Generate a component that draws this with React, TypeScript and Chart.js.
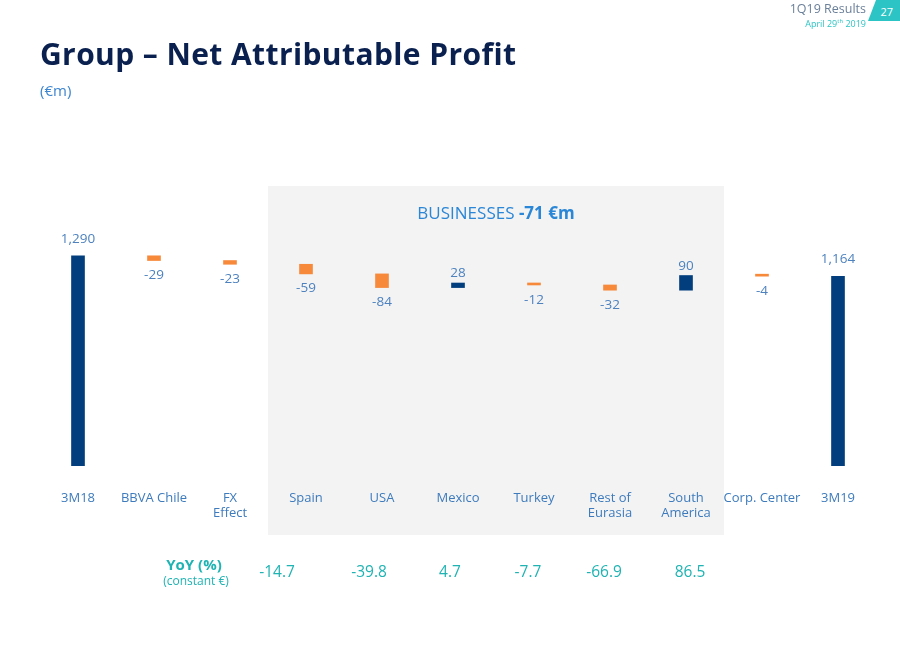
import React, { useEffect, useRef } from "react";
import { Chart, registerables } from "chart.js";

Chart.register(...registerables);

const categories: (string | string[])[] = [
  "3M18",
  "BBVA Chile",
  ["FX", "Effect"],
  "Spain",
  "USA",
  "Mexico",
  "Turkey",
  ["Rest of", "Eurasia"],
  ["South", "America"],
  "Corp. Center",
  "3M19",
];
// "total" entries are absolute; others are deltas
const kinds = ["total", "delta", "delta", "delta", "delta", "delta", "delta", "delta", "delta", "delta", "total"];
const values = [1290, -29, -23, -59, -84, 28, -12, -32, 90, -4, 1164];
const valueLabels = ["1,290", "-29", "-23", "-59", "-84", "28", "-12", "-32", "90", "-4", "1,164"];
const yoyLabels = ["-14.7", "-39.8", "4.7", "-7.7", "-66.9", "86.5"];
const yoyFirstIndex = 3;
const yoyNudge = [-29, -13, -8, -6, -6, 4];
const businessesFirst = 3;
const businessesLast = 8;

const NAVY = "#023e7d";
const ORANGE = "#f7893b";
const LABEL = "#4d82bf";
const TEAL = "#1fb3b3";

function buildRanges(): [number, number][] {
  let run = 0;
  return values.map((v, i) => {
    if (kinds[i] === "total") {
      run = v;
      return [0, v] as [number, number];
    }
    const start = run;
    run = run + v;
    return [start, run] as [number, number];
  });
}

export default function App() {
  const ref = useRef<HTMLCanvasElement>(null);
  useEffect(() => {
    document.body.style.margin = "0";
    const ranges = buildRanges();
    const colors = values.map((v, i) => (kinds[i] === "total" || v >= 0 ? NAVY : ORANGE));

    const overlay = {
      id: "overlay",
      beforeDraw(chart: any) {
        const ctx = chart.ctx;
        const x = chart.scales.x;
        const half = (x.getPixelForValue(1) - x.getPixelForValue(0)) / 2;
        const left = x.getPixelForValue(businessesFirst) - half;
        const right = x.getPixelForValue(businessesLast) + half;
        ctx.save();
        ctx.fillStyle = "#f3f3f3";
        ctx.fillRect(left, 186, right - left, 349);
        // heading
        ctx.textBaseline = "middle";
        const a = "BUSINESSES ";
        ctx.font = "bold 17px 'Open Sans', sans-serif";
        const b = "-71 €m";
        const wb = ctx.measureText(b).width;
        ctx.font = "17px 'Open Sans', sans-serif";
        const wa = ctx.measureText(a).width;
        const cx = (left + right) / 2;
        const sx = cx - (wa + wb) / 2;
        ctx.fillStyle = "#2a86d6";
        ctx.textAlign = "left";
        ctx.fillText(a, sx, 214);
        ctx.font = "bold 17px 'Open Sans', sans-serif";
        ctx.fillText(b, sx + wa, 214);
        ctx.restore();
      },
      afterDatasetsDraw(chart: any) {
        const ctx = chart.ctx;
        const x = chart.scales.x;
        const y = chart.scales.y;
        ctx.save();
        ctx.font = "13.5px 'Open Sans', sans-serif";
        ctx.fillStyle = LABEL;
        ctx.textAlign = "center";
        ranges.forEach((r, i) => {
          const px = x.getPixelForValue(i);
          const top = y.getPixelForValue(Math.max(r[0], r[1]));
          const bot = y.getPixelForValue(Math.min(r[0], r[1]));
          if (kinds[i] === "total") {
            ctx.textBaseline = "bottom";
            ctx.fillText(valueLabels[i], px, top - 10);
          } else if (values[i] >= 0) {
            ctx.textBaseline = "bottom";
            ctx.fillText(valueLabels[i], px, top - 3);
          } else {
            ctx.textBaseline = "top";
            ctx.fillText(valueLabels[i], px, bot + 8);
          }
        });
        // YoY row
        ctx.fillStyle = TEAL;
        ctx.font = "15.5px 'Open Sans', sans-serif";
        ctx.textBaseline = "middle";
        yoyLabels.forEach((t, k) => {
          const px = x.getPixelForValue(yoyFirstIndex + k) + yoyNudge[k];
          ctx.fillText(t, px, 573);
        });
        ctx.textAlign = "center";
        ctx.font = "bold 15px 'Open Sans', sans-serif";
        ctx.fillText("YoY (%)", 194, 566);
        ctx.font = "12px 'Open Sans', sans-serif";
        ctx.fillText("(constant €)", 196, 582);
        ctx.restore();
      },
    };

    const chart = new Chart(ref.current!, {
      type: "bar",
      data: {
        labels: categories,
        datasets: [
          {
            data: ranges as any,
            backgroundColor: colors,
            barThickness: 13,
            borderSkipped: false,
            minBarLength: 2,
          },
        ],
      },
      options: {
        animation: false,
        responsive: false,
        maintainAspectRatio: false,
        layout: { padding: { left: 40, right: 24, top: 189, bottom: 144 } },
        plugins: { legend: { display: false }, tooltip: { enabled: false } },
        scales: {
          x: {
            grid: { display: false, drawTicks: false },
            border: { display: false },
            ticks: {
              padding: 24,
              color: "#3d7bbd",
              font: { family: "'Open Sans', sans-serif", size: 13 },
              maxRotation: 0,
              autoSkip: false,
            },
            afterFit: (s: any) => {
              s.height = 60;
            },
          },
          y: { display: false, min: 0, max: 1700 },
        },
      },
      plugins: [overlay],
    });
    return () => chart.destroy();
  }, []);

  return (
    <div style={{ position: "relative", width: 900, height: 670, background: "#fff", fontFamily: "'Open Sans', sans-serif", overflow: "hidden" }}>
      <canvas ref={ref} width={900} height={670} style={{ position: "absolute", left: 0, top: 0 }} />
      <div style={{ position: "absolute", left: 40, top: 33, fontSize: 30, fontWeight: 700, color: "#0a2150", letterSpacing: 0.4, fontFamily: "'Open Sans', sans-serif", lineHeight: "42px" }}>
        Group – Net Attributable Profit
      </div>
      <div style={{ position: "absolute", left: 40, top: 80, fontSize: 15, color: "#3d85d0" }}>(€m)</div>
      <div style={{ position: "absolute", right: 34, top: 2, fontSize: 12.5, color: "#6a7f99", textAlign: "right", lineHeight: "14px" }}>
        1Q19 Results
        <div style={{ fontSize: 9, color: "#2cc4c4", lineHeight: "11px" }}>
          April 29<sup style={{ fontSize: 6 }}>th</sup> 2019
        </div>
      </div>
      <div style={{ position: "absolute", right: 0, top: 0, width: 32, height: 21, background: "#2cc4c4", clipPath: "polygon(8px 0, 100% 0, 100% 100%, 0 100%)", color: "#fff", fontSize: 11, lineHeight: "21px" }}>
        <span style={{ position: "absolute", right: 7, top: 1 }}>27</span>
      </div>
    </div>
  );
}
